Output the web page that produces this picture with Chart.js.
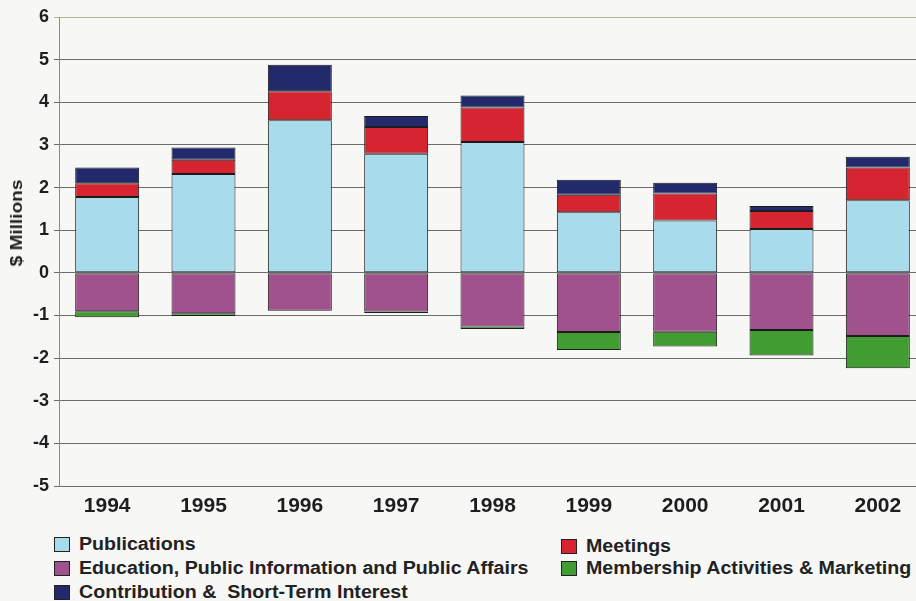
<!DOCTYPE html>
<html>
<head>
<meta charset="utf-8">
<script src="https://cdn.jsdelivr.net/npm/chart.js@4"></script>
<style>
    body { margin: 0; background: #f7f7f6; overflow: hidden; font-family: 'Liberation Sans', Arial, sans-serif; }
    #wrap { position: relative; width: 916px; height: 601px; overflow: hidden; }
    #financeChart { position: absolute; left: 0; top: 0; }
    .legend-item { position: absolute; display: flex; align-items: center; font-weight: bold; font-size: 18px; color: #222; white-space: pre; }
    .legend-item span.box { width: 14px; height: 13px; border: 1px solid #222; margin-right: 9px; }
    .legend-item span.txt { display: inline-block; transform: scaleX(1.09); transform-origin: left center; }
    #yTitle { position: absolute; left: 17px; top: 223px; font-weight: bold; font-size: 17px; color: #1e1e1e; white-space: nowrap;
              transform: translate(-50%, -50%) rotate(-90deg) scaleX(1.12); }
</style>
</head>
<body>
<div id="wrap">
    <canvas id="financeChart" width="935" height="520"></canvas>
    <div id="yTitle">$ Millions</div>
</div>
<script>
const years = ['1994', '1995', '1996', '1997', '1998', '1999', '2000', '2001', '2002'];
const publications = [1.78, 2.32, 3.58, 2.79, 3.07, 1.42, 1.23, 1.03, 1.70];
const meetings = [0.32, 0.33, 0.68, 0.63, 0.81, 0.41, 0.63, 0.42, 0.77];
const contribution = [0.37, 0.29, 0.62, 0.26, 0.28, 0.35, 0.25, 0.12, 0.25];
const education = [-0.90, -0.95, -0.89, -0.91, -1.26, -1.39, -1.38, -1.34, -1.48];
const membership = [-0.14, -0.06, 0, -0.03, -0.06, -0.42, -0.35, -0.60, -0.76];
const yMin = -5;
const yMax = 6;

const series = [
    { label: 'Publications', data: publications, color: '#a8dbeb' },
    { label: 'Meetings', data: meetings, color: '#d62430' },
    { label: 'Contribution &  Short-Term Interest', data: contribution, color: '#232a6c' },
    { label: 'Education, Public Information and Public Affairs', data: education, color: '#a0528c' },
    { label: 'Membership Activities & Marketing', data: membership, color: '#419c31' },
];

// legend layout follows the original: two columns, filled top to bottom
const legendPos = {
    'Publications': [54, 534],
    'Education, Public Information and Public Affairs': [54, 558],
    'Contribution &  Short-Term Interest': [54, 582],
    'Meetings': [561, 536],
    'Membership Activities & Marketing': [561, 558],
};

const ctx = document.getElementById('financeChart').getContext('2d');
new Chart(ctx, {
    type: 'bar',
    data: {
        labels: years,
        datasets: series.map(s => ({
            label: s.label,
            data: s.data,
            backgroundColor: s.color,
            borderColor: '#1c1c1c',
            borderWidth: 1,
            borderSkipped: false,
            categoryPercentage: 1,
            barPercentage: 0.664,
        })),
    },
    options: {
        responsive: false,
        animation: false,
        layout: { padding: { top: 17, right: 9, bottom: 0, left: 0 } },
        plugins: {
            legend: { display: false },
            tooltip: { enabled: false },
        },
        scales: {
            x: {
                stacked: true,
                grid: { display: false, drawTicks: false },
                border: { display: false },
                ticks: {
                    padding: 8,
                    color: '#1e1e1e',
                    font: { family: "'Liberation Sans', Arial", size: 21, weight: 'bold' },
                },
                afterFit: scale => { scale.height = 34; },
            },
            y: {
                stacked: true,
                min: yMin,
                max: yMax,
                ticks: {
                    stepSize: 1,
                    padding: 5,
                    color: '#1e1e1e',
                    font: { family: "'Liberation Sans', Arial", size: 18, weight: 'bold' },
                },
                grid: {
                    color: c => (c.tick && c.tick.value === yMax ? '#b9b597' : '#6b6b6b'),
                    lineWidth: 1,
                    tickLength: 5,
                },
                border: { color: '#8a8a8a', width: 1 },
                afterFit: scale => { scale.width = 59; },
            },
        },
    },
});

const wrap = document.getElementById('wrap');
series.forEach(s => {
    const item = document.createElement('div');
    item.className = 'legend-item';
    item.style.left = legendPos[s.label][0] + 'px';
    item.style.top = legendPos[s.label][1] + 'px';
    item.innerHTML = '<span class="box" style="background:' + s.color + '"></span><span class="txt"></span>';
    item.querySelector('.txt').textContent = s.label;
    wrap.appendChild(item);
});
</script>
</body>
</html>
